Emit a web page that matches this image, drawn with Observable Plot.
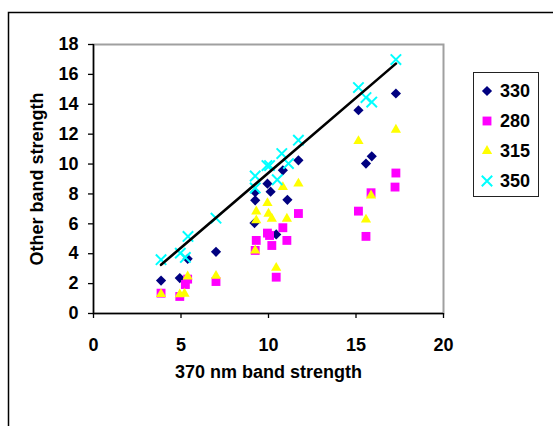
<!DOCTYPE html>
<html>
<head>
<meta charset="utf-8">
<script src="https://cdn.jsdelivr.net/npm/d3@7"></script>
<script src="https://cdn.jsdelivr.net/npm/@observablehq/plot@0.6"></script>
<style>
  body { margin: 0; background: #fff; font-family: Arial, "Liberation Sans", sans-serif; }
  #wrap { position: relative; width: 553px; height: 426px; overflow: hidden; background: #fff; }
  #chart { position: absolute; left: 0; top: 0; z-index: 1; }
  #legend { position: absolute; left: 473px; top: 72px; width: 66px; height: 125px; border: 1px solid #222; box-sizing: border-box; background: #fff; z-index: 2; }
  .item { position: absolute; left: 0; width: 64px; height: 24px; }
  .item svg { position: absolute; left: 3px; top: 2px; }
  .item span { position: absolute; left: 26px; top: 1px; font-size: 18px; font-weight: bold; line-height: 22px; color: #000; }
</style>
</head>
<body>
<div id="wrap">
  <div id="chart"></div>
  <div id="legend"></div>
</div>
<script>
// ---- data ----
const seriesNames = ["330", "280", "315", "350"];

const x330 = [3.86, 4.93, 5.38, 7.0, 9.2, 9.24, 9.24, 9.94, 10.12, 10.44, 10.82, 11.08, 11.71, 15.14, 15.57, 15.9, 17.28];
const y330 = [2.2, 2.37, 3.66, 4.13, 6.05, 7.57, 8.12, 8.69, 8.15, 5.29, 9.58, 7.61, 10.25, 13.6, 10.03, 10.52, 14.72];

const x280 = [3.86, 4.93, 5.25, 5.38, 7.0, 9.24, 9.3, 9.94, 10.06, 10.19, 10.44, 10.82, 11.05, 11.71, 15.14, 15.57, 15.86, 17.23, 17.28];
const y280 = [1.36, 1.14, 1.94, 2.3, 2.14, 4.22, 4.89, 5.38, 5.22, 4.55, 2.43, 5.74, 4.89, 6.69, 6.85, 5.16, 8.08, 8.46, 9.4];

const x315 = [3.86, 4.93, 5.2, 5.38, 7.0, 9.24, 9.3, 9.3, 9.94, 10.0, 10.19, 10.44, 10.82, 11.05, 11.71, 15.14, 15.57, 15.86, 17.28];
const y315 = [1.3, 1.28, 1.32, 2.48, 2.52, 4.22, 6.23, 6.83, 7.39, 6.68, 6.34, 3.05, 8.46, 6.34, 8.69, 11.54, 6.28, 7.9, 12.3];

const x350 = [3.86, 4.96, 5.25, 5.4, 7.0, 9.24, 9.24, 9.91, 10.06, 10.5, 10.76, 11.14, 11.71, 15.14, 15.57, 15.9, 17.28];
const y350 = [3.6, 4.04, 3.75, 5.16, 6.38, 9.2, 8.4, 9.9, 9.9, 8.95, 10.7, 10.03, 11.6, 15.12, 14.45, 14.15, 16.99];

// linear trend line (endpoints)
const trendX = [3.86, 17.28];
const trendY = [3.26, 16.72];

const xTicks = [0, 5, 10, 15, 20];
const yTicks = [0, 2, 4, 6, 8, 10, 12, 14, 16, 18];
const xTitle = "370 nm band strength";
const yTitle = "Other band strength";

// ---- styles ----
const style = {
  "330": {symbol: "diamond2", fill: "#000080", stroke: "none", r: 4.6},
  "280": {symbol: "square", fill: "#FF00FF", stroke: "none", r: 5.0},
  "315": {symbol: "triangle", fill: "#FFFF00", stroke: "none", r: 3.8},
  "350": {symbol: "times", fill: "none", stroke: "#00FFFF", r: 4.8, strokeWidth: 2}
};

const seriesData = {
  "330": x330.map((v, i) => ({x: v, y: y330[i]})),
  "280": x280.map((v, i) => ({x: v, y: y280[i]})),
  "315": x315.map((v, i) => ({x: v, y: y315[i]})),
  "350": x350.map((v, i) => ({x: v, y: y350[i]}))
};
const trend = trendX.map((v, i) => ({x: v, y: trendY[i]}));

const dotMarks = seriesNames.map(name => {
  const s = style[name];
  return Plot.dot(seriesData[name], {
    x: "x", y: "y", symbol: s.symbol, fill: s.fill, stroke: s.stroke,
    r: s.r, strokeWidth: s.strokeWidth || 1
  });
});

const chart = Plot.plot({
  width: 553,
  height: 426,
  marginLeft: 93,
  marginRight: 110,
  marginTop: 44,
  marginBottom: 113,
  style: {fontFamily: 'Arial, "Liberation Sans", sans-serif', fontSize: "18px", fontWeight: "bold", color: "#000", background: "transparent", overflow: "visible"},
  x: {domain: [0, 20]},
  y: {domain: [0, 18]},
  marks: [
    Plot.frame({stroke: "#a0a0a0", strokeWidth: 2}),
    Plot.axisX({ticks: xTicks, tickSize: 5, tickPadding: 20, label: null, stroke: "#000", strokeWidth: 1.3, fill: "#000", tickFormat: d => String(d)}),
    Plot.axisY({ticks: yTicks, tickSize: 5, tickPadding: 10, label: null, stroke: "#000", strokeWidth: 1.3, fill: "#000", tickFormat: d => String(d)}),
    Plot.ruleX([0], {stroke: "#000", strokeWidth: 1.5}),
    Plot.ruleY([0], {stroke: "#000", strokeWidth: 1.5}),
    ...dotMarks,
    Plot.line(trend, {x: "x", y: "y", stroke: "#000", strokeWidth: 2.6}),
    Plot.text([xTitle], {frameAnchor: "bottom", dy: 64, fontSize: 18, fontWeight: "bold", fill: "#000"}),
    Plot.text([yTitle], {frameAnchor: "left", textAnchor: "middle", dx: -56, rotate: -90, fontSize: 18, fontWeight: "bold", fill: "#000"})
  ]
});
// outer chart-area border (decoration: top and left edges visible in the picture)
d3.select(chart).insert("path", ":first-child")
  .attr("d", "M8.5,426V12.5H553")
  .attr("fill", "none")
  .attr("stroke", "#000")
  .attr("stroke-width", 1.5);
document.getElementById("chart").appendChild(chart);

// ---- legend ----
const legend = document.getElementById("legend");
const svgNS = "http://www.w3.org/2000/svg";
const symbolTypes = {diamond2: d3.symbolDiamond2, square: d3.symbolSquare, triangle: d3.symbolTriangle, times: d3.symbolTimes};
seriesNames.forEach((name, i) => {
  const s = style[name];
  const item = document.createElement("div");
  item.className = "item";
  item.style.top = (6 + i * 30) + "px";
  const d = d3.symbol(symbolTypes[s.symbol], Math.PI * s.r * s.r)();
  const svg = document.createElementNS(svgNS, "svg");
  svg.setAttribute("width", 20);
  svg.setAttribute("height", 20);
  const p = document.createElementNS(svgNS, "path");
  p.setAttribute("d", d);
  p.setAttribute("transform", "translate(10,10)");
  p.setAttribute("fill", s.fill);
  p.setAttribute("stroke", s.stroke);
  if (s.strokeWidth) p.setAttribute("stroke-width", s.strokeWidth);
  svg.appendChild(p);
  const span = document.createElement("span");
  span.textContent = name;
  item.appendChild(svg);
  item.appendChild(span);
  legend.appendChild(item);
});
</script>
</body>
</html>
